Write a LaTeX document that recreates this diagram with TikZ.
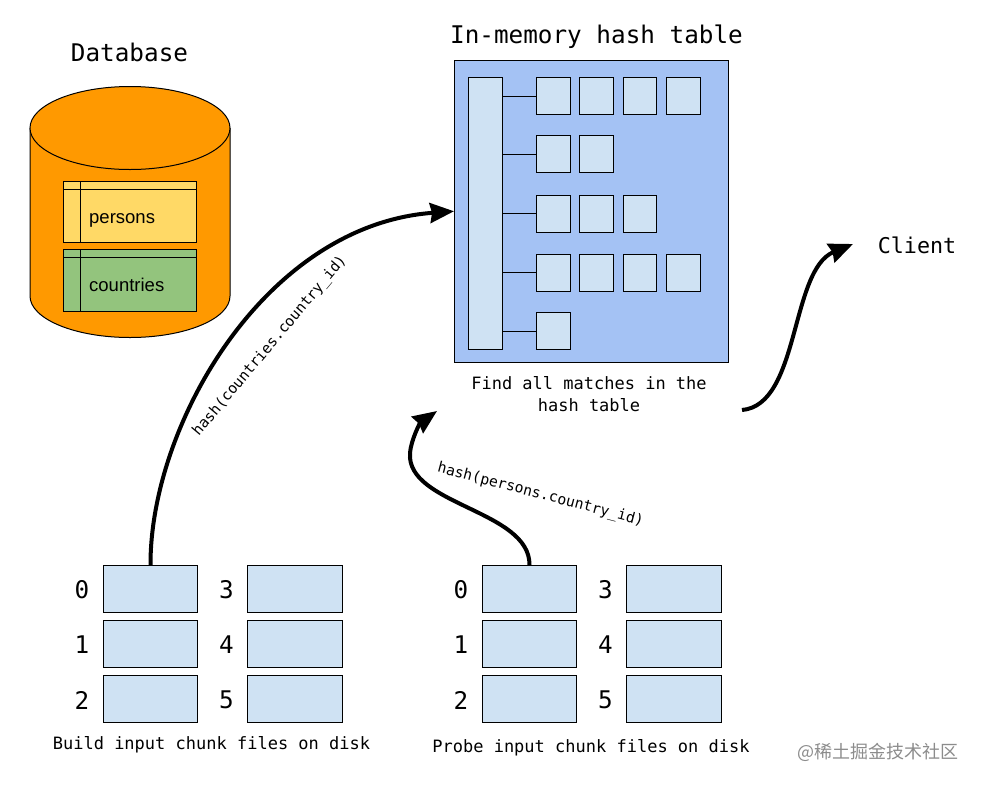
\documentclass[tikz,border=0pt]{standalone}
\usepackage{xcolor}
\usepackage{fontspec}
\setmainfont{Liberation Sans}
\setmonofont{DejaVu Sans Mono}
\newfontfamily\cjkfont{Noto Sans CJK SC}
\usetikzlibrary{arrows.meta}

\definecolor{dborange}{HTML}{FF9900}
\definecolor{tblyellow}{HTML}{FFD966}
\definecolor{tblgreen}{HTML}{93C47D}
\definecolor{hashblue}{HTML}{A4C2F4}
\definecolor{cellblue}{HTML}{CFE2F3}

\tikzset{
    box/.style={draw, inner sep=0pt, line width=1pt},
    cellbox/.style={box, fill=cellblue, minimum width=33.5pt, minimum height=37pt},
    chunkbox/.style={box, fill=cellblue, minimum width=94.5pt, minimum height=47pt},
    tablebox/.style={box, minimum width=133pt},
    tabletext/.style={anchor=base west, inner sep=0pt, font=\fontsize{18.5}{22}\selectfont},
    bigtext/.style={font=\ttfamily\fontsize{24.3}{28}\selectfont},
    smalltext/.style={font=\ttfamily\fontsize{17}{22}\selectfont, align=center},
    hashtext/.style={font=\ttfamily\fontsize{14.7}{18}\selectfont},
    flow/.style={line width=4pt, -{Stealth[length=24pt, width=20pt, inset=2pt]}},
}

\begin{document}
\begin{tikzpicture}[x=1pt, y=-1pt]
    \useasboundingbox (0,0) rectangle (981,785);

    % database
    \draw[fill=dborange, line width=1pt] (30,128) -- (30,296)
        arc[start angle=180, end angle=360, x radius=100, y radius=-41.5]
        -- (230,128);
    \draw[fill=dborange, line width=1pt] (130,128) ellipse[x radius=100, y radius=41.5];
    \node[bigtext] (dbtitle) at (129.5,52) {Database};

    \node[tablebox, fill=tblyellow, minimum height=61pt] (persons) at (130,212) {};
    \draw (persons.north west |- 0,189.5) -- (persons.north east |- 0,189.5);
    \draw (80.5,0 |- persons.north) -- (80.5,0 |- persons.south);
    \node[tabletext] (personstext) at (89,223.5) {persons};

    \node[tablebox, fill=tblgreen, minimum height=62pt] (countries) at (130,280.5) {};
    \draw (countries.north west |- 0,257) -- (countries.north east |- 0,257);
    \draw (80.5,0 |- countries.north) -- (80.5,0 |- countries.south);
    \node[tabletext] (countriestext) at (89,291.5) {countries};

    % hash table
    \node[bigtext] (hashtitle) at (596.5,37) {In-memory hash table};
    \node[box, fill=hashblue, minimum width=274pt, minimum height=301.5pt] (hashtable) at (591.5,211.25) {};
    \node[box, fill=cellblue, minimum width=34.5pt, minimum height=271.5pt] (bucket) at (485.25,213.25) {};
    \foreach \r/\yc/\n in {1/96/4, 2/154.25/2, 3/213.5/3, 4/272.5/4, 5/331/1} {
        \foreach \c/\xc in {1/553.25, 2/596.25, 3/639.75, 4/683.5} {
            \ifnum\c>\n\else
                \node[cellbox] (cell\r-\c) at (\xc,\yc) {};
            \fi
        }
        \draw[line width=1pt] (bucket.east |- cell\r-1.west) -- (cell\r-1.west);
    }
    \node[smalltext] (findtext) at (589,394) {Find all matches in the\\hash table};

    % chunk files
    \foreach \side/\sx in {build/0, probe/379} {
        \foreach \k/\xc/\yc in {0/150.5/589, 1/150.5/644, 2/150.5/699, 3/295/589, 4/295/644, 5/295/699} {
            \node[chunkbox] (\side\k) at (\xc+\sx,\yc) {};
            \node[bigtext] (\side num\k) at (\xc+\sx-68.5,\yc+1) {\k};
        }
    }
    \node[smalltext] (buildtext) at (211.5,745) {Build input chunk files on disk};
    \node[smalltext] (probetext) at (591,748) {Probe input chunk files on disk};

    % arrows
    \node[hashtext, rotate=50] (buildhash) at (270,346) {hash(countries.country\_id)};
    \node[hashtext, rotate=-14.7] (probehash) at (540.5,495) {hash(persons.country\_id)};
    \coordinate (probeend) at (437,411);
    \coordinate (clientstart) at (742,410);
    \coordinate (clientend) at (853,244);
    \node[bigtext, font=\ttfamily\fontsize{21.7}{26}\selectfont] (client) at (917,245) {Client};

    \draw[flow] (build0.north) .. controls (150,425) and (265,225) .. (hashtable.west);
    \draw[flow] (probe0.north) .. controls (530,510) and (406,505) .. (410,453)
        .. controls (411,440) and (420,423) .. (probeend);
    \draw[flow] (clientstart) .. controls (800,405) and (790,270) .. (clientend);

    % watermark
    \node[text=black!45, font=\cjkfont\fontsize{18}{22}\selectfont] (watermark) at (878,752) {@稀土掘金技术社区};
\end{tikzpicture}
\end{document}
